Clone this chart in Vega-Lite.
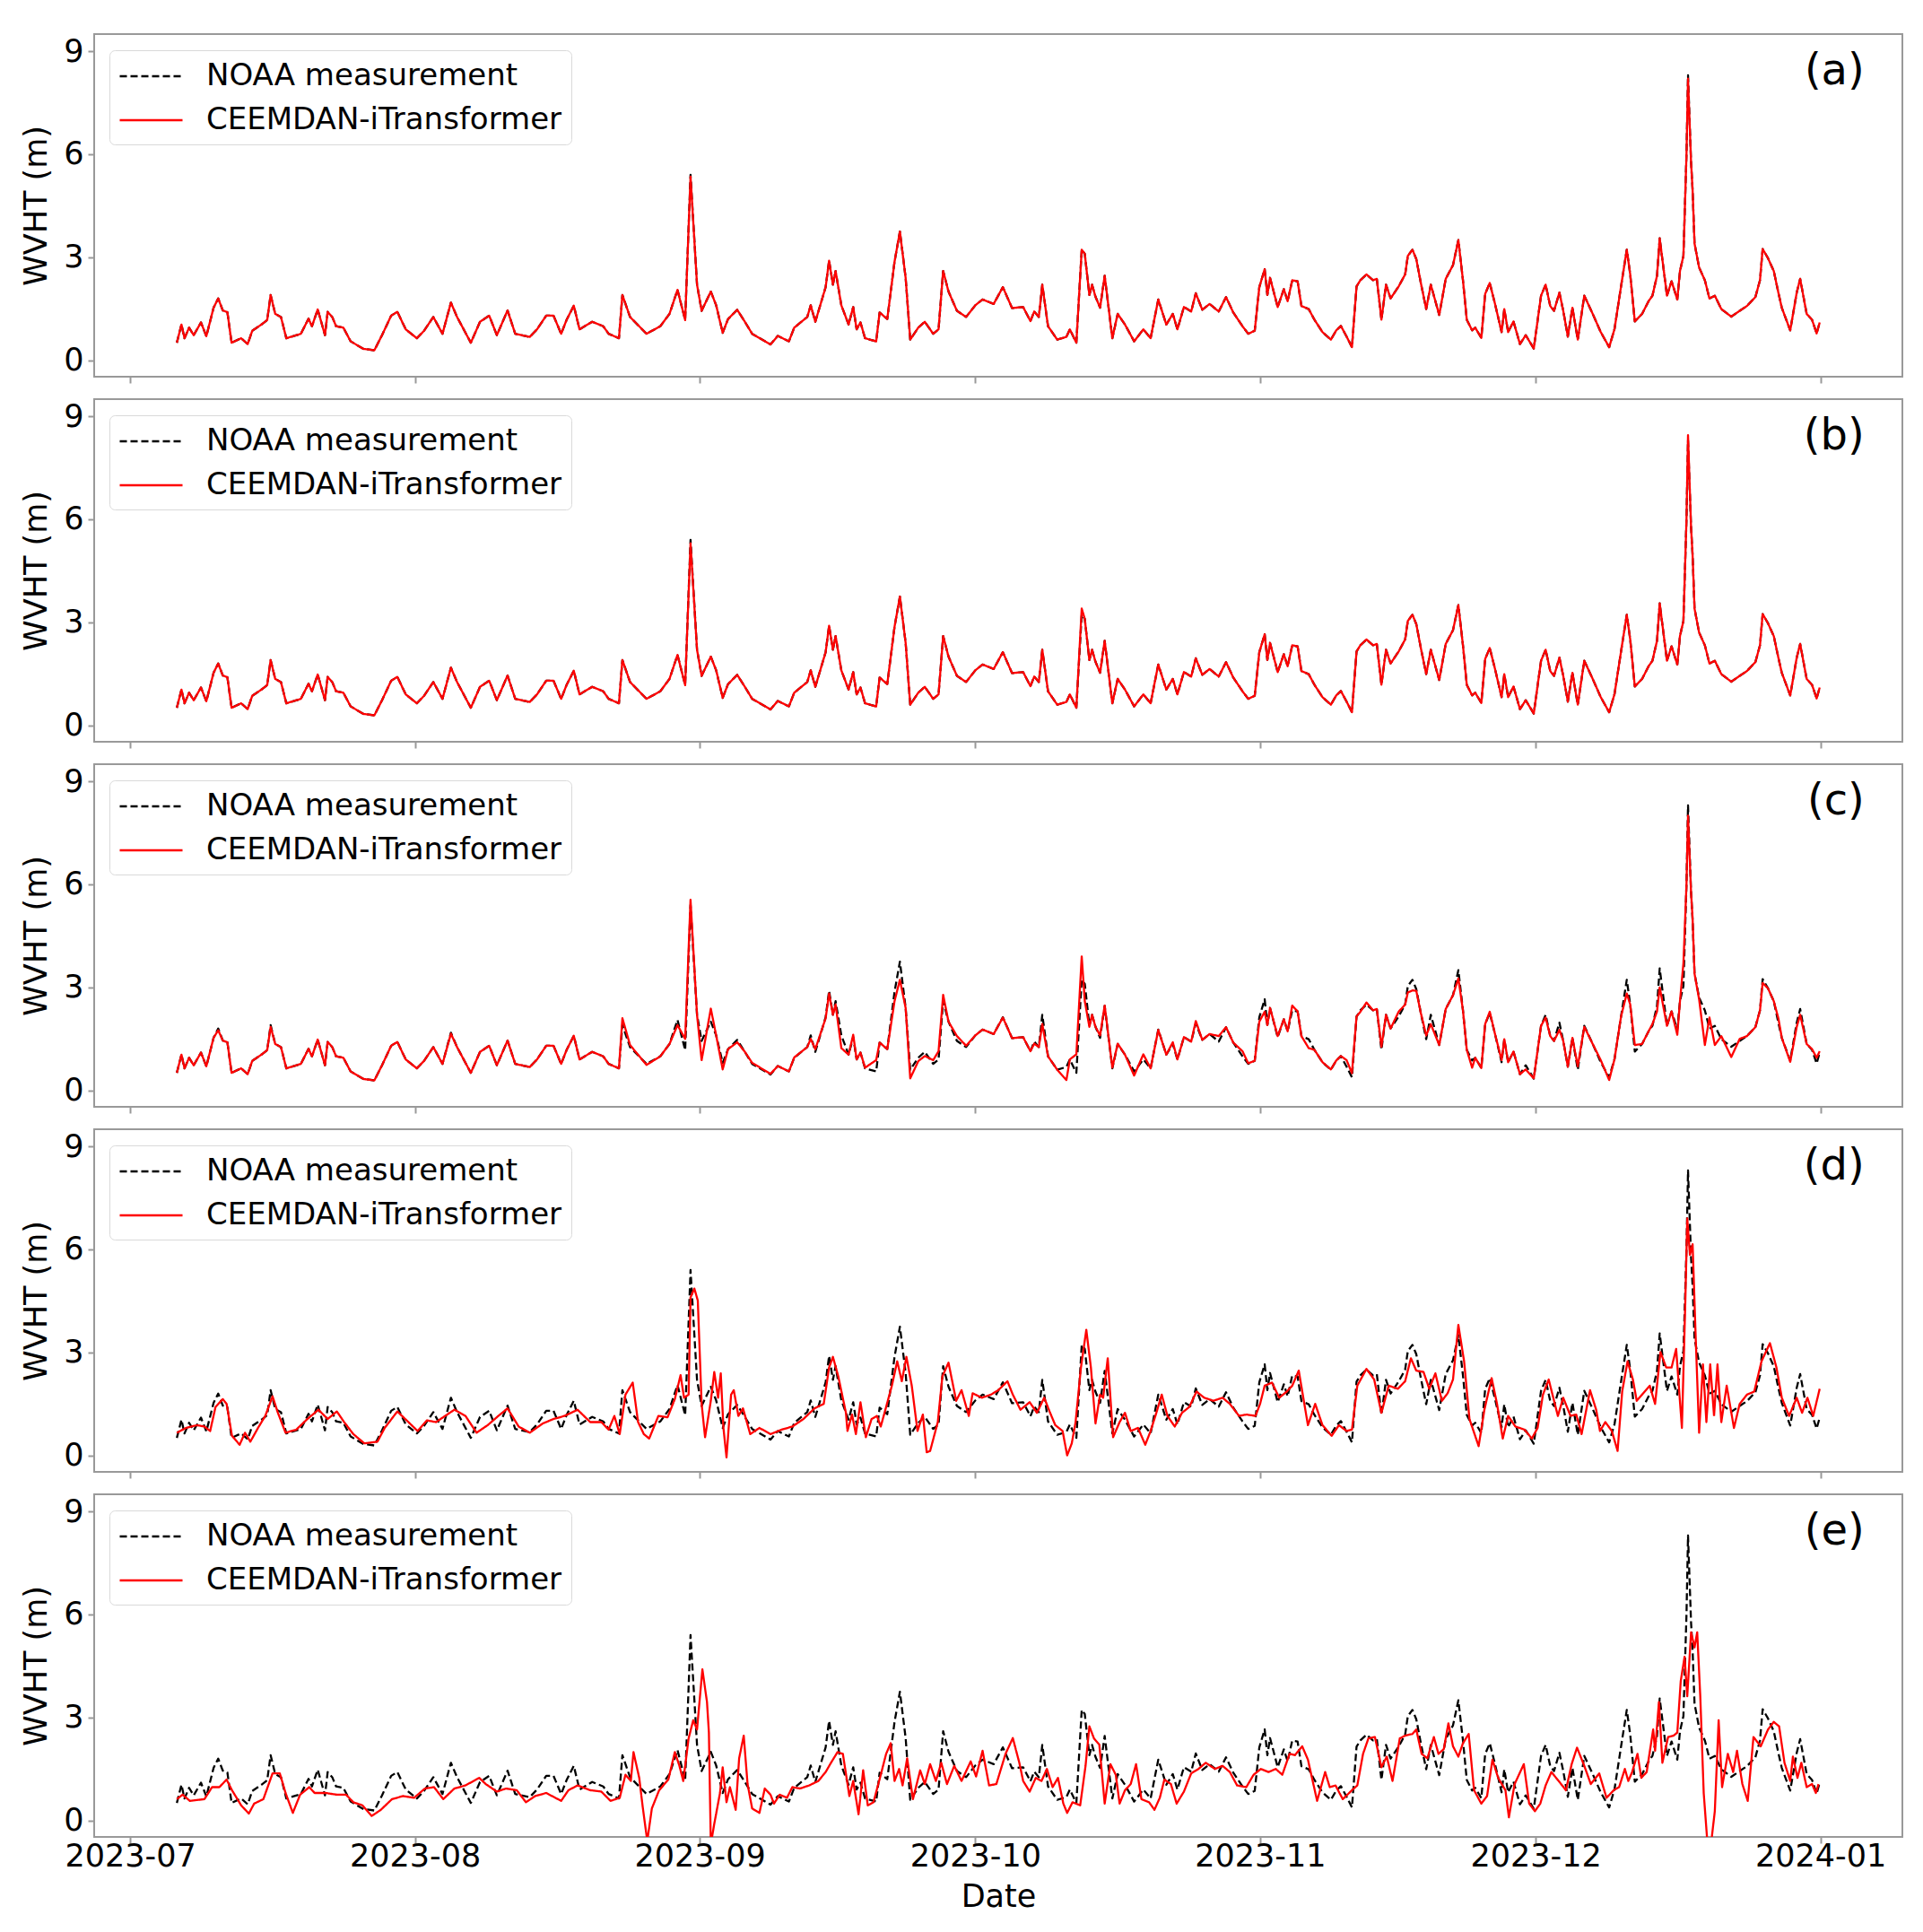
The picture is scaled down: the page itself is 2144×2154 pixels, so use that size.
{
"$schema": "https://vega.github.io/schema/vega-lite/v6.json",
"padding": {"left": 22, "top": 37, "right": 0, "bottom": 6},
"background": "white",
"datasets": {
"obs": [
{"t":"2023-07-06T02:00","o":0.51,"a":0.51,"b":0.51,"c":0.51},
{"t":"2023-07-06T14:00","o":1.04,"a":1.04,"b":1.04,"c":1.04},
{"t":"2023-07-06T22:00","o":0.64,"a":0.64,"b":0.64,"c":0.64},
{"t":"2023-07-07T10:00","o":0.95,"a":0.95,"b":0.95,"c":0.95},
{"t":"2023-07-07T22:00","o":0.73,"a":0.73,"b":0.73,"c":0.73},
{"t":"2023-07-08T17:00","o":1.1,"a":1.1,"b":1.1,"c":1.1},
{"t":"2023-07-09T07:00","o":0.7,"a":0.7,"b":0.7,"c":0.7},
{"t":"2023-07-10T02:00","o":1.53,"a":1.53,"b":1.53,"c":1.53},
{"t":"2023-07-10T14:00","o":1.8,"a":1.8,"b":1.8,"c":1.75},
{"t":"2023-07-11T02:00","o":1.45,"a":1.45,"b":1.45,"c":1.45},
{"t":"2023-07-11T14:00","o":1.4,"a":1.4,"b":1.4,"c":1.4},
{"t":"2023-07-12T01:00","o":0.51,"a":0.51,"b":0.51,"c":0.51},
{"t":"2023-07-13T02:00","o":0.64,"a":0.64,"b":0.64,"c":0.64},
{"t":"2023-07-13T19:00","o":0.47,"a":0.47,"b":0.47,"c":0.47},
{"t":"2023-07-14T07:00","o":0.86,"a":0.86,"b":0.86,"c":0.86},
{"t":"2023-07-15T07:00","o":1.04,"a":1.04,"b":1.04,"c":1.04},
{"t":"2023-07-15T22:00","o":1.17,"a":1.17,"b":1.17,"c":1.17},
{"t":"2023-07-16T07:00","o":1.9,"a":1.9,"b":1.9,"c":1.85},
{"t":"2023-07-16T19:00","o":1.35,"a":1.35,"b":1.35,"c":1.35},
{"t":"2023-07-17T10:00","o":1.26,"a":1.26,"b":1.26,"c":1.26},
{"t":"2023-07-18T00:00","o":0.64,"a":0.64,"b":0.64,"c":0.64},
{"t":"2023-07-19T14:00","o":0.77,"a":0.77,"b":0.77,"c":0.77},
{"t":"2023-07-20T10:00","o":1.21,"a":1.21,"b":1.21,"c":1.21},
{"t":"2023-07-20T19:00","o":0.99,"a":0.99,"b":0.99,"c":0.99},
{"t":"2023-07-21T10:00","o":1.48,"a":1.48,"b":1.48,"c":1.48},
{"t":"2023-07-22T05:00","o":0.73,"a":0.73,"b":0.73,"c":0.73},
{"t":"2023-07-22T12:00","o":1.41,"a":1.41,"b":1.41,"c":1.41},
{"t":"2023-07-23T00:00","o":1.26,"a":1.26,"b":1.26,"c":1.26},
{"t":"2023-07-23T10:00","o":0.99,"a":0.99,"b":0.99,"c":0.99},
{"t":"2023-07-24T05:00","o":0.95,"a":0.95,"b":0.95,"c":0.95},
{"t":"2023-07-25T00:00","o":0.55,"a":0.55,"b":0.55,"c":0.55},
{"t":"2023-07-26T10:00","o":0.33,"a":0.33,"b":0.33,"c":0.33},
{"t":"2023-07-27T14:00","o":0.29,"a":0.29,"b":0.29,"c":0.29},
{"t":"2023-07-28T10:00","o":0.73,"a":0.73,"b":0.73,"c":0.73},
{"t":"2023-07-29T10:00","o":1.3,"a":1.3,"b":1.3,"c":1.3},
{"t":"2023-07-30T02:00","o":1.41,"a":1.41,"b":1.41,"c":1.41},
{"t":"2023-07-31T00:00","o":0.9,"a":0.9,"b":0.9,"c":0.9},
{"t":"2023-08-01T05:00","o":0.64,"a":0.64,"b":0.64,"c":0.64},
{"t":"2023-08-02T00:00","o":0.86,"a":0.86,"b":0.86,"c":0.86},
{"t":"2023-08-03T00:00","o":1.26,"a":1.26,"b":1.26,"c":1.26},
{"t":"2023-08-04T00:00","o":0.77,"a":0.77,"b":0.77,"c":0.77},
{"t":"2023-08-04T22:00","o":1.68,"a":1.68,"b":1.68,"c":1.65},
{"t":"2023-08-05T14:00","o":1.26,"a":1.26,"b":1.26,"c":1.26},
{"t":"2023-08-07T02:00","o":0.51,"a":0.51,"b":0.51,"c":0.51},
{"t":"2023-08-08T02:00","o":1.12,"a":1.12,"b":1.12,"c":1.12},
{"t":"2023-08-09T02:00","o":1.3,"a":1.3,"b":1.3,"c":1.3},
{"t":"2023-08-09T22:00","o":0.73,"a":0.73,"b":0.73,"c":0.73},
{"t":"2023-08-11T02:00","o":1.45,"a":1.45,"b":1.45,"c":1.45},
{"t":"2023-08-11T22:00","o":0.77,"a":0.77,"b":0.77,"c":0.77},
{"t":"2023-08-13T12:00","o":0.68,"a":0.68,"b":0.68,"c":0.68},
{"t":"2023-08-14T07:00","o":0.9,"a":0.9,"b":0.9,"c":0.9},
{"t":"2023-08-15T07:00","o":1.3,"a":1.3,"b":1.3,"c":1.3},
{"t":"2023-08-16T02:00","o":1.3,"a":1.3,"b":1.3,"c":1.3},
{"t":"2023-08-16T22:00","o":0.77,"a":0.77,"b":0.77,"c":0.77},
{"t":"2023-08-17T12:00","o":1.17,"a":1.17,"b":1.17,"c":1.17},
{"t":"2023-08-18T07:00","o":1.59,"a":1.59,"b":1.59,"c":1.59},
{"t":"2023-08-18T22:00","o":0.9,"a":0.9,"b":0.9,"c":0.9},
{"t":"2023-08-20T07:00","o":1.12,"a":1.12,"b":1.12,"c":1.12},
{"t":"2023-08-21T12:00","o":0.99,"a":0.99,"b":0.99,"c":0.99},
{"t":"2023-08-22T02:00","o":0.77,"a":0.77,"b":0.77,"c":0.77},
{"t":"2023-08-23T05:00","o":0.64,"a":0.64,"b":0.64,"c":0.64},
{"t":"2023-08-23T14:00","o":1.9,"a":1.9,"b":1.9,"c":2.1},
{"t":"2023-08-24T10:00","o":1.26,"a":1.26,"b":1.26,"c":1.32},
{"t":"2023-08-26T05:00","o":0.77,"a":0.77,"b":0.77,"c":0.74},
{"t":"2023-08-27T17:00","o":0.99,"a":0.99,"b":0.99,"c":0.99},
{"t":"2023-08-28T17:00","o":1.35,"a":1.35,"b":1.35,"c":1.35},
{"t":"2023-08-29T14:00","o":2.05,"a":2.05,"b":2.05,"c":1.9},
{"t":"2023-08-30T10:00","o":1.17,"a":1.17,"b":1.17,"c":1.5},
{"t":"2023-08-31T00:00","o":5.4,"a":5.35,"b":5.3,"c":5.55},
{"t":"2023-08-31T17:00","o":2.2,"a":2.2,"b":2.2,"c":2.2},
{"t":"2023-09-01T05:00","o":1.44,"a":1.44,"b":1.44,"c":0.88},
{"t":"2023-09-02T05:00","o":2.0,"a":2.0,"b":2.0,"c":2.38},
{"t":"2023-09-02T19:00","o":1.6,"a":1.6,"b":1.6,"c":1.6},
{"t":"2023-09-03T12:00","o":0.8,"a":0.8,"b":0.8,"c":0.61},
{"t":"2023-09-04T02:00","o":1.2,"a":1.2,"b":1.2,"c":1.2},
{"t":"2023-09-05T02:00","o":1.47,"a":1.47,"b":1.47,"c":1.4},
{"t":"2023-09-05T22:00","o":1.12,"a":1.12,"b":1.12,"c":1.12},
{"t":"2023-09-06T17:00","o":0.77,"a":0.77,"b":0.77,"c":0.8},
{"t":"2023-09-08T17:00","o":0.46,"a":0.46,"b":0.46,"c":0.48},
{"t":"2023-09-09T12:00","o":0.71,"a":0.71,"b":0.71,"c":0.71},
{"t":"2023-09-10T17:00","o":0.55,"a":0.55,"b":0.55,"c":0.55},
{"t":"2023-09-11T07:00","o":0.95,"a":0.95,"b":0.95,"c":0.96},
{"t":"2023-09-12T17:00","o":1.26,"a":1.26,"b":1.26,"c":1.26},
{"t":"2023-09-13T02:00","o":1.6,"a":1.6,"b":1.6,"c":1.5},
{"t":"2023-09-13T14:00","o":1.12,"a":1.12,"b":1.12,"c":1.2},
{"t":"2023-09-14T17:00","o":2.13,"a":2.13,"b":2.13,"c":2.1},
{"t":"2023-09-15T02:00","o":2.9,"a":2.9,"b":2.9,"c":2.82},
{"t":"2023-09-15T12:00","o":2.2,"a":2.2,"b":2.2,"c":2.2},
{"t":"2023-09-15T19:00","o":2.6,"a":2.6,"b":2.6,"c":2.5},
{"t":"2023-09-16T10:00","o":1.6,"a":1.6,"b":1.6,"c":1.23},
{"t":"2023-09-17T05:00","o":1.04,"a":1.04,"b":1.04,"c":1.04},
{"t":"2023-09-17T17:00","o":1.55,"a":1.55,"b":1.55,"c":1.62},
{"t":"2023-09-18T02:00","o":0.9,"a":0.9,"b":0.9,"c":0.9},
{"t":"2023-09-18T12:00","o":1.1,"a":1.1,"b":1.1,"c":1.1},
{"t":"2023-09-19T00:00","o":0.64,"a":0.64,"b":0.64,"c":0.66},
{"t":"2023-09-20T05:00","o":0.55,"a":0.55,"b":0.55,"c":0.88},
{"t":"2023-09-20T14:00","o":1.39,"a":1.39,"b":1.39,"c":1.39},
{"t":"2023-09-21T10:00","o":1.2,"a":1.2,"b":1.2,"c":1.2},
{"t":"2023-09-22T05:00","o":2.87,"a":2.87,"b":2.87,"c":2.6},
{"t":"2023-09-22T19:00","o":3.75,"a":3.75,"b":3.75,"c":3.22},
{"t":"2023-09-23T10:00","o":2.4,"a":2.4,"b":2.4,"c":2.4},
{"t":"2023-09-23T22:00","o":0.6,"a":0.6,"b":0.6,"c":0.35},
{"t":"2023-09-24T19:00","o":0.95,"a":0.95,"b":0.95,"c":0.85},
{"t":"2023-09-25T12:00","o":1.12,"a":1.12,"b":1.12,"c":1.0},
{"t":"2023-09-26T10:00","o":0.77,"a":0.77,"b":0.77,"c":0.88},
{"t":"2023-09-27T00:00","o":0.9,"a":0.9,"b":0.9,"c":1.14},
{"t":"2023-09-27T12:00","o":2.6,"a":2.6,"b":2.6,"c":2.78},
{"t":"2023-09-28T02:00","o":2.0,"a":2.0,"b":2.0,"c":2.0},
{"t":"2023-09-29T00:00","o":1.44,"a":1.44,"b":1.44,"c":1.58},
{"t":"2023-09-30T00:00","o":1.26,"a":1.26,"b":1.26,"c":1.3},
{"t":"2023-10-01T00:00","o":1.6,"a":1.6,"b":1.6,"c":1.6},
{"t":"2023-10-01T19:00","o":1.77,"a":1.77,"b":1.77,"c":1.77},
{"t":"2023-10-03T00:00","o":1.64,"a":1.64,"b":1.64,"c":1.64},
{"t":"2023-10-04T00:00","o":2.13,"a":2.13,"b":2.13,"c":2.12},
{"t":"2023-10-05T00:00","o":1.52,"a":1.52,"b":1.52,"c":1.52},
{"t":"2023-10-06T05:00","o":1.55,"a":1.55,"b":1.55,"c":1.55},
{"t":"2023-10-07T00:00","o":1.14,"a":1.14,"b":1.14,"c":1.14},
{"t":"2023-10-07T10:00","o":1.42,"a":1.42,"b":1.42,"c":1.36},
{"t":"2023-10-07T22:00","o":1.26,"a":1.26,"b":1.26,"c":1.26},
{"t":"2023-10-08T07:00","o":2.2,"a":2.2,"b":2.2,"c":1.93},
{"t":"2023-10-08T22:00","o":0.99,"a":0.99,"b":0.99,"c":0.99},
{"t":"2023-10-09T22:00","o":0.6,"a":0.6,"b":0.6,"c":0.6},
{"t":"2023-10-10T22:00","o":0.68,"a":0.68,"b":0.68,"c":0.3},
{"t":"2023-10-11T07:00","o":0.9,"a":0.9,"b":0.9,"c":0.9},
{"t":"2023-10-12T00:00","o":0.51,"a":0.51,"b":0.51,"c":1.05},
{"t":"2023-10-12T14:00","o":3.22,"a":3.22,"b":3.4,"c":3.9},
{"t":"2023-10-12T22:00","o":3.1,"a":3.1,"b":3.1,"c":2.6},
{"t":"2023-10-13T10:00","o":1.9,"a":1.9,"b":1.9,"c":1.85},
{"t":"2023-10-13T17:00","o":2.2,"a":2.2,"b":2.2,"c":2.2},
{"t":"2023-10-14T02:00","o":1.85,"a":1.85,"b":1.85,"c":1.85},
{"t":"2023-10-14T14:00","o":1.53,"a":1.53,"b":1.53,"c":1.6},
{"t":"2023-10-15T02:00","o":2.46,"a":2.46,"b":2.46,"c":2.47},
{"t":"2023-10-15T22:00","o":0.64,"a":0.64,"b":0.64,"c":0.66},
{"t":"2023-10-16T12:00","o":1.35,"a":1.35,"b":1.35,"c":1.36},
{"t":"2023-10-17T07:00","o":1.04,"a":1.04,"b":1.04,"c":1.04},
{"t":"2023-10-18T07:00","o":0.55,"a":0.55,"b":0.55,"c":0.43},
{"t":"2023-10-19T07:00","o":0.9,"a":0.9,"b":0.9,"c":1.05},
{"t":"2023-10-20T02:00","o":0.64,"a":0.64,"b":0.64,"c":0.64},
{"t":"2023-10-20T22:00","o":1.77,"a":1.77,"b":1.77,"c":1.76},
{"t":"2023-10-21T19:00","o":1.04,"a":1.04,"b":1.04,"c":1.04},
{"t":"2023-10-22T12:00","o":1.35,"a":1.35,"b":1.35,"c":1.4},
{"t":"2023-10-23T00:00","o":0.9,"a":0.9,"b":0.9,"c":0.9},
{"t":"2023-10-23T17:00","o":1.55,"a":1.55,"b":1.55,"c":1.55},
{"t":"2023-10-24T12:00","o":1.42,"a":1.42,"b":1.42,"c":1.42},
{"t":"2023-10-25T00:00","o":1.95,"a":1.95,"b":1.95,"c":2.02},
{"t":"2023-10-25T17:00","o":1.47,"a":1.47,"b":1.47,"c":1.47},
{"t":"2023-10-26T12:00","o":1.64,"a":1.64,"b":1.64,"c":1.64},
{"t":"2023-10-27T12:00","o":1.42,"a":1.42,"b":1.42,"c":1.58},
{"t":"2023-10-28T07:00","o":1.84,"a":1.84,"b":1.84,"c":1.84},
{"t":"2023-10-29T02:00","o":1.39,"a":1.39,"b":1.39,"c":1.39},
{"t":"2023-10-30T02:00","o":0.99,"a":0.99,"b":0.99,"c":1.14},
{"t":"2023-10-30T17:00","o":0.77,"a":0.77,"b":0.77,"c":0.79},
{"t":"2023-10-31T10:00","o":0.86,"a":0.86,"b":0.86,"c":0.86},
{"t":"2023-10-31T22:00","o":2.13,"a":2.13,"b":2.13,"c":2.0},
{"t":"2023-11-01T12:00","o":2.65,"a":2.65,"b":2.65,"c":2.29},
{"t":"2023-11-01T19:00","o":1.9,"a":1.9,"b":1.9,"c":1.9},
{"t":"2023-11-02T02:00","o":2.4,"a":2.4,"b":2.4,"c":2.4},
{"t":"2023-11-02T22:00","o":1.55,"a":1.55,"b":1.55,"c":1.58},
{"t":"2023-11-03T14:00","o":2.07,"a":2.07,"b":2.07,"c":2.07},
{"t":"2023-11-04T00:00","o":1.72,"a":1.72,"b":1.72,"c":1.72},
{"t":"2023-11-04T12:00","o":2.33,"a":2.33,"b":2.33,"c":2.47},
{"t":"2023-11-05T02:00","o":2.3,"a":2.3,"b":2.3,"c":2.3},
{"t":"2023-11-05T12:00","o":1.58,"a":1.58,"b":1.58,"c":1.58},
{"t":"2023-11-06T07:00","o":1.49,"a":1.49,"b":1.49,"c":1.23},
{"t":"2023-11-06T22:00","o":1.18,"a":1.18,"b":1.18,"c":1.18},
{"t":"2023-11-07T19:00","o":0.82,"a":0.82,"b":0.82,"c":0.82},
{"t":"2023-11-08T17:00","o":0.6,"a":0.6,"b":0.6,"c":0.61},
{"t":"2023-11-09T07:00","o":0.87,"a":0.87,"b":0.87,"c":0.87},
{"t":"2023-11-09T19:00","o":1.0,"a":1.0,"b":1.0,"c":1.0},
{"t":"2023-11-10T10:00","o":0.69,"a":0.69,"b":0.69,"c":0.88},
{"t":"2023-11-11T00:00","o":0.38,"a":0.38,"b":0.38,"c":0.5},
{"t":"2023-11-11T12:00","o":2.15,"a":2.15,"b":2.15,"c":2.15},
{"t":"2023-11-11T22:00","o":2.33,"a":2.33,"b":2.33,"c":2.29},
{"t":"2023-11-12T14:00","o":2.5,"a":2.5,"b":2.5,"c":2.56},
{"t":"2023-11-13T07:00","o":2.33,"a":2.33,"b":2.33,"c":2.33},
{"t":"2023-11-13T17:00","o":2.37,"a":2.37,"b":2.37,"c":2.37},
{"t":"2023-11-14T05:00","o":1.18,"a":1.18,"b":1.18,"c":1.27},
{"t":"2023-11-14T17:00","o":2.2,"a":2.2,"b":2.2,"c":2.2},
{"t":"2023-11-15T05:00","o":1.8,"a":1.8,"b":1.8,"c":1.8},
{"t":"2023-11-16T02:00","o":2.15,"a":2.15,"b":2.15,"c":2.29},
{"t":"2023-11-16T19:00","o":2.5,"a":2.5,"b":2.5,"c":2.5},
{"t":"2023-11-17T02:00","o":3.04,"a":3.04,"b":3.04,"c":2.85},
{"t":"2023-11-17T14:00","o":3.22,"a":3.22,"b":3.22,"c":2.91},
{"t":"2023-11-18T00:00","o":2.95,"a":2.95,"b":2.95,"c":2.9},
{"t":"2023-11-18T12:00","o":2.25,"a":2.25,"b":2.25,"c":2.25},
{"t":"2023-11-19T02:00","o":1.49,"a":1.49,"b":1.49,"c":1.6},
{"t":"2023-11-19T14:00","o":2.2,"a":2.2,"b":2.2,"c":1.93},
{"t":"2023-11-20T12:00","o":1.32,"a":1.32,"b":1.32,"c":1.32},
{"t":"2023-11-21T05:00","o":2.37,"a":2.37,"b":2.37,"c":2.37},
{"t":"2023-11-22T00:00","o":2.77,"a":2.77,"b":2.77,"c":2.77},
{"t":"2023-11-22T14:00","o":3.5,"a":3.5,"b":3.5,"c":3.26},
{"t":"2023-11-23T02:00","o":2.33,"a":2.33,"b":2.33,"c":2.33},
{"t":"2023-11-23T12:00","o":1.18,"a":1.18,"b":1.18,"c":1.18},
{"t":"2023-11-24T02:00","o":0.87,"a":0.87,"b":0.87,"c":0.66},
{"t":"2023-11-24T10:00","o":0.95,"a":0.95,"b":0.95,"c":0.95},
{"t":"2023-11-25T02:00","o":0.65,"a":0.65,"b":0.65,"c":0.65},
{"t":"2023-11-25T12:00","o":1.93,"a":1.93,"b":1.93,"c":1.93},
{"t":"2023-11-26T00:00","o":2.25,"a":2.25,"b":2.25,"c":2.29},
{"t":"2023-11-26T14:00","o":1.63,"a":1.63,"b":1.63,"c":1.63},
{"t":"2023-11-27T07:00","o":0.82,"a":0.82,"b":0.82,"c":0.88},
{"t":"2023-11-27T14:00","o":1.49,"a":1.49,"b":1.49,"c":1.49},
{"t":"2023-11-28T00:00","o":0.82,"a":0.82,"b":0.82,"c":0.82},
{"t":"2023-11-28T14:00","o":1.13,"a":1.13,"b":1.13,"c":1.13},
{"t":"2023-11-29T07:00","o":0.47,"a":0.47,"b":0.47,"c":0.47},
{"t":"2023-11-29T22:00","o":0.73,"a":0.73,"b":0.73,"c":0.61},
{"t":"2023-11-30T19:00","o":0.34,"a":0.34,"b":0.34,"c":0.35},
{"t":"2023-12-01T14:00","o":1.88,"a":1.88,"b":1.88,"c":1.88},
{"t":"2023-12-02T02:00","o":2.2,"a":2.2,"b":2.2,"c":2.12},
{"t":"2023-12-02T14:00","o":1.58,"a":1.58,"b":1.58,"c":1.58},
{"t":"2023-12-03T00:00","o":1.44,"a":1.44,"b":1.44,"c":1.44},
{"t":"2023-12-03T14:00","o":1.97,"a":1.97,"b":1.97,"c":1.76},
{"t":"2023-12-04T00:00","o":1.44,"a":1.44,"b":1.44,"c":1.44},
{"t":"2023-12-04T12:00","o":0.69,"a":0.69,"b":0.69,"c":0.69},
{"t":"2023-12-05T00:00","o":1.53,"a":1.53,"b":1.53,"c":1.53},
{"t":"2023-12-05T14:00","o":0.6,"a":0.6,"b":0.6,"c":0.7},
{"t":"2023-12-06T07:00","o":1.88,"a":1.88,"b":1.88,"c":1.85},
{"t":"2023-12-07T05:00","o":1.35,"a":1.35,"b":1.35,"c":1.35},
{"t":"2023-12-08T02:00","o":0.82,"a":0.82,"b":0.82,"c":0.88},
{"t":"2023-12-09T00:00","o":0.38,"a":0.38,"b":0.38,"c":0.3},
{"t":"2023-12-09T14:00","o":0.91,"a":0.91,"b":0.91,"c":0.91},
{"t":"2023-12-10T07:00","o":2.15,"a":2.15,"b":2.15,"c":2.15},
{"t":"2023-12-10T22:00","o":3.22,"a":3.22,"b":3.22,"c":2.82},
{"t":"2023-12-11T07:00","o":2.5,"a":2.5,"b":2.5,"c":2.5},
{"t":"2023-12-11T19:00","o":1.13,"a":1.13,"b":1.13,"c":1.32},
{"t":"2023-12-12T14:00","o":1.35,"a":1.35,"b":1.35,"c":1.35},
{"t":"2023-12-13T07:00","o":1.72,"a":1.72,"b":1.72,"c":1.72},
{"t":"2023-12-13T17:00","o":1.88,"a":1.88,"b":1.88,"c":1.93},
{"t":"2023-12-14T05:00","o":2.46,"a":2.46,"b":2.46,"c":2.3},
{"t":"2023-12-14T12:00","o":3.55,"a":3.55,"b":3.55,"c":3.0},
{"t":"2023-12-15T07:00","o":1.88,"a":1.88,"b":1.88,"c":1.88},
{"t":"2023-12-15T19:00","o":2.3,"a":2.3,"b":2.3,"c":2.3},
{"t":"2023-12-16T10:00","o":1.77,"a":1.77,"b":1.77,"c":1.62},
{"t":"2023-12-16T17:00","o":2.6,"a":2.6,"b":2.6,"c":2.6},
{"t":"2023-12-17T02:00","o":3.04,"a":3.04,"b":3.04,"c":3.7},
{"t":"2023-12-17T10:00","o":6.0,"a":6.0,"b":6.0,"c":6.0},
{"t":"2023-12-17T14:00","o":8.3,"a":8.2,"b":8.45,"c":8.0},
{"t":"2023-12-17T22:00","o":5.75,"a":5.75,"b":5.75,"c":5.75},
{"t":"2023-12-18T02:00","o":4.95,"a":4.95,"b":4.95,"c":5.0},
{"t":"2023-12-18T07:00","o":3.4,"a":3.4,"b":3.4,"c":3.4},
{"t":"2023-12-18T19:00","o":2.7,"a":2.7,"b":2.7,"c":2.65},
{"t":"2023-12-19T10:00","o":2.33,"a":2.33,"b":2.33,"c":1.32},
{"t":"2023-12-19T22:00","o":1.8,"a":1.8,"b":1.8,"c":2.12},
{"t":"2023-12-20T12:00","o":1.88,"a":1.88,"b":1.88,"c":1.32},
{"t":"2023-12-21T05:00","o":1.49,"a":1.49,"b":1.49,"c":1.58},
{"t":"2023-12-22T07:00","o":1.27,"a":1.27,"b":1.27,"c":0.97},
{"t":"2023-12-23T05:00","o":1.44,"a":1.44,"b":1.44,"c":1.5},
{"t":"2023-12-24T00:00","o":1.58,"a":1.58,"b":1.58,"c":1.58},
{"t":"2023-12-24T22:00","o":1.84,"a":1.84,"b":1.84,"c":1.84},
{"t":"2023-12-25T10:00","o":2.33,"a":2.33,"b":2.33,"c":2.33},
{"t":"2023-12-25T17:00","o":3.24,"a":3.24,"b":3.24,"c":3.13},
{"t":"2023-12-26T07:00","o":2.97,"a":2.97,"b":2.97,"c":2.97},
{"t":"2023-12-26T22:00","o":2.6,"a":2.6,"b":2.6,"c":2.6},
{"t":"2023-12-27T10:00","o":1.97,"a":1.97,"b":1.97,"c":2.1},
{"t":"2023-12-27T19:00","o":1.53,"a":1.53,"b":1.53,"c":1.53},
{"t":"2023-12-28T17:00","o":0.87,"a":0.87,"b":0.87,"c":0.83},
{"t":"2023-12-29T10:00","o":1.97,"a":1.97,"b":1.97,"c":1.85},
{"t":"2023-12-29T19:00","o":2.37,"a":2.37,"b":2.37,"c":2.2},
{"t":"2023-12-30T12:00","o":1.35,"a":1.35,"b":1.35,"c":1.35},
{"t":"2023-12-31T02:00","o":1.18,"a":1.18,"b":1.18,"c":1.2},
{"t":"2023-12-31T14:00","o":0.78,"a":0.78,"b":0.78,"c":0.95},
{"t":"2023-12-31T22:00","o":1.1,"a":1.1,"b":1.1,"c":1.14}
],
"pd": [
{"t":"2023-07-06T02:00","v":0.66},{"t":"2023-07-07T02:00","v":0.8},{"t":"2023-07-08T07:00","v":0.88},{"t":"2023-07-09T02:00","v":0.84},{"t":"2023-07-09T17:00","v":0.71},{"t":"2023-07-10T07:00","v":1.41},{"t":"2023-07-11T02:00","v":1.64},{"t":"2023-07-11T12:00","v":1.5},{"t":"2023-07-12T02:00","v":0.57},{"t":"2023-07-12T22:00","v":0.31},{"t":"2023-07-13T12:00","v":0.66},{"t":"2023-07-14T02:00","v":0.4},{"t":"2023-07-14T22:00","v":0.8},{"t":"2023-07-15T17:00","v":1.15},{"t":"2023-07-16T12:00","v":1.72},{"t":"2023-07-17T02:00","v":1.24},{"t":"2023-07-17T22:00","v":0.66},{"t":"2023-07-19T02:00","v":0.75},{"t":"2023-07-20T07:00","v":1.06},{"t":"2023-07-21T12:00","v":1.33},{"t":"2023-07-22T12:00","v":1.06},{"t":"2023-07-23T12:00","v":1.28},{"t":"2023-07-24T07:00","v":0.97},{"t":"2023-07-25T07:00","v":0.62},{"t":"2023-07-26T12:00","v":0.35},{"t":"2023-07-27T22:00","v":0.4},{"t":"2023-07-28T17:00","v":0.8},{"t":"2023-07-30T02:00","v":1.28},{"t":"2023-07-31T07:00","v":0.97},{"t":"2023-08-01T07:00","v":0.71},{"t":"2023-08-02T07:00","v":1.02},{"t":"2023-08-03T07:00","v":0.97},{"t":"2023-08-04T07:00","v":1.15},{"t":"2023-08-05T07:00","v":1.33},{"t":"2023-08-06T12:00","v":1.15},{"t":"2023-08-07T17:00","v":0.66},{"t":"2023-08-08T22:00","v":0.88},{"t":"2023-08-10T02:00","v":1.15},{"t":"2023-08-11T02:00","v":1.37},{"t":"2023-08-12T07:00","v":0.84},{"t":"2023-08-13T12:00","v":0.66},{"t":"2023-08-14T22:00","v":0.93},{"t":"2023-08-16T02:00","v":1.06},{"t":"2023-08-17T07:00","v":1.15},{"t":"2023-08-18T17:00","v":1.33},{"t":"2023-08-20T02:00","v":0.97},{"t":"2023-08-21T07:00","v":0.97},{"t":"2023-08-22T02:00","v":0.75},{"t":"2023-08-22T17:00","v":1.15},{"t":"2023-08-23T07:00","v":0.62},{"t":"2023-08-23T22:00","v":1.77},{"t":"2023-08-24T17:00","v":2.12},{"t":"2023-08-25T07:00","v":0.97},{"t":"2023-08-25T22:00","v":0.62},{"t":"2023-08-26T12:00","v":0.49},{"t":"2023-08-27T12:00","v":1.15},{"t":"2023-08-28T12:00","v":1.11},{"t":"2023-08-29T07:00","v":1.64},{"t":"2023-08-29T22:00","v":2.34},{"t":"2023-08-30T07:00","v":1.68},{"t":"2023-08-30T19:00","v":1.77},{"t":"2023-08-31T00:00","v":4.6},{"t":"2023-08-31T10:00","v":4.86},{"t":"2023-08-31T19:00","v":4.51},{"t":"2023-09-01T05:00","v":1.5},{"t":"2023-09-01T14:00","v":0.53},{"t":"2023-09-02T05:00","v":1.59},{"t":"2023-09-02T14:00","v":2.43},{"t":"2023-09-03T00:00","v":1.68},{"t":"2023-09-03T07:00","v":2.39},{"t":"2023-09-03T14:00","v":0.8},{"t":"2023-09-03T22:00","v":-0.06},{"t":"2023-09-04T10:00","v":1.77},{"t":"2023-09-04T17:00","v":1.9},{"t":"2023-09-05T05:00","v":1.15},{"t":"2023-09-05T17:00","v":1.37},{"t":"2023-09-06T12:00","v":0.62},{"t":"2023-09-07T12:00","v":0.8},{"t":"2023-09-08T17:00","v":0.62},{"t":"2023-09-09T22:00","v":0.75},{"t":"2023-09-11T02:00","v":0.84},{"t":"2023-09-12T07:00","v":1.06},{"t":"2023-09-13T12:00","v":1.37},{"t":"2023-09-14T12:00","v":1.5},{"t":"2023-09-15T02:00","v":2.56},{"t":"2023-09-15T12:00","v":2.87},{"t":"2023-09-16T02:00","v":2.3},{"t":"2023-09-16T22:00","v":1.24},{"t":"2023-09-17T02:00","v":0.71},{"t":"2023-09-17T14:00","v":1.19},{"t":"2023-09-18T00:00","v":0.62},{"t":"2023-09-18T12:00","v":1.55},{"t":"2023-09-19T02:00","v":0.53},{"t":"2023-09-19T17:00","v":1.06},{"t":"2023-09-20T07:00","v":1.15},{"t":"2023-09-20T17:00","v":0.84},{"t":"2023-09-21T07:00","v":1.41},{"t":"2023-09-21T22:00","v":2.03},{"t":"2023-09-22T12:00","v":2.74},{"t":"2023-09-23T00:00","v":2.16},{"t":"2023-09-23T12:00","v":2.87},{"t":"2023-09-24T02:00","v":2.03},{"t":"2023-09-24T17:00","v":0.71},{"t":"2023-09-25T07:00","v":1.19},{"t":"2023-09-25T17:00","v":0.09},{"t":"2023-09-26T02:00","v":0.13},{"t":"2023-09-26T22:00","v":0.97},{"t":"2023-09-27T10:00","v":2.3},{"t":"2023-09-28T02:00","v":2.7},{"t":"2023-09-28T22:00","v":1.59},{"t":"2023-09-29T12:00","v":1.9},{"t":"2023-09-30T07:00","v":1.15},{"t":"2023-09-30T17:00","v":1.81},{"t":"2023-10-01T17:00","v":1.68},{"t":"2023-10-02T17:00","v":1.77},{"t":"2023-10-03T12:00","v":1.9},{"t":"2023-10-04T12:00","v":2.16},{"t":"2023-10-05T02:00","v":1.77},{"t":"2023-10-05T22:00","v":1.33},{"t":"2023-10-06T22:00","v":1.55},{"t":"2023-10-07T17:00","v":1.24},{"t":"2023-10-08T12:00","v":1.68},{"t":"2023-10-09T02:00","v":1.28},{"t":"2023-10-09T17:00","v":0.88},{"t":"2023-10-10T12:00","v":0.71},{"t":"2023-10-11T00:00","v":0.0},{"t":"2023-10-11T12:00","v":0.35},{"t":"2023-10-11T22:00","v":0.97},{"t":"2023-10-12T12:00","v":2.56},{"t":"2023-10-13T02:00","v":3.66},{"t":"2023-10-13T14:00","v":2.56},{"t":"2023-10-14T02:00","v":0.93},{"t":"2023-10-14T14:00","v":1.77},{"t":"2023-10-14T22:00","v":1.68},{"t":"2023-10-15T10:00","v":2.83},{"t":"2023-10-16T00:00","v":0.53},{"t":"2023-10-16T17:00","v":0.97},{"t":"2023-10-17T07:00","v":1.24},{"t":"2023-10-17T22:00","v":0.71},{"t":"2023-10-18T17:00","v":0.8},{"t":"2023-10-19T12:00","v":0.31},{"t":"2023-10-20T02:00","v":0.71},{"t":"2023-10-20T17:00","v":1.24},{"t":"2023-10-21T07:00","v":1.77},{"t":"2023-10-21T22:00","v":1.15},{"t":"2023-10-22T17:00","v":0.84},{"t":"2023-10-23T12:00","v":1.24},{"t":"2023-10-24T07:00","v":1.41},{"t":"2023-10-25T02:00","v":1.86},{"t":"2023-10-25T22:00","v":1.68},{"t":"2023-10-26T22:00","v":1.59},{"t":"2023-10-27T22:00","v":1.68},{"t":"2023-10-28T17:00","v":1.5},{"t":"2023-10-29T17:00","v":1.15},{"t":"2023-10-30T12:00","v":1.19},{"t":"2023-10-31T12:00","v":1.15},{"t":"2023-11-01T00:00","v":1.5},{"t":"2023-11-01T12:00","v":2.03},{"t":"2023-11-02T07:00","v":2.12},{"t":"2023-11-03T02:00","v":1.68},{"t":"2023-11-03T22:00","v":1.86},{"t":"2023-11-04T12:00","v":2.03},{"t":"2023-11-05T05:00","v":2.47},{"t":"2023-11-06T05:00","v":0.88},{"t":"2023-11-07T00:00","v":1.5},{"t":"2023-11-07T19:00","v":0.88},{"t":"2023-11-08T19:00","v":0.57},{"t":"2023-11-09T14:00","v":0.88},{"t":"2023-11-10T10:00","v":0.71},{"t":"2023-11-11T00:00","v":0.75},{"t":"2023-11-11T14:00","v":2.03},{"t":"2023-11-12T14:00","v":2.52},{"t":"2023-11-13T10:00","v":2.21},{"t":"2023-11-14T05:00","v":1.24},{"t":"2023-11-15T00:00","v":2.03},{"t":"2023-11-16T00:00","v":1.94},{"t":"2023-11-16T19:00","v":2.16},{"t":"2023-11-17T10:00","v":2.83},{"t":"2023-11-18T00:00","v":2.47},{"t":"2023-11-18T19:00","v":2.43},{"t":"2023-11-19T10:00","v":1.94},{"t":"2023-11-20T02:00","v":2.39},{"t":"2023-11-20T19:00","v":1.59},{"t":"2023-11-21T10:00","v":1.81},{"t":"2023-11-22T00:00","v":2.21},{"t":"2023-11-22T14:00","v":3.8},{"t":"2023-11-23T05:00","v":2.74},{"t":"2023-11-23T19:00","v":1.06},{"t":"2023-11-24T19:00","v":0.27},{"t":"2023-11-25T10:00","v":1.33},{"t":"2023-11-26T05:00","v":2.25},{"t":"2023-11-26T19:00","v":1.5},{"t":"2023-11-27T10:00","v":0.49},{"t":"2023-11-28T00:00","v":1.15},{"t":"2023-11-28T19:00","v":0.84},{"t":"2023-11-29T19:00","v":0.75},{"t":"2023-11-30T14:00","v":0.49},{"t":"2023-12-01T05:00","v":0.8},{"t":"2023-12-01T19:00","v":1.77},{"t":"2023-12-02T10:00","v":2.21},{"t":"2023-12-03T10:00","v":1.15},{"t":"2023-12-04T00:00","v":1.68},{"t":"2023-12-04T19:00","v":1.15},{"t":"2023-12-05T10:00","v":1.19},{"t":"2023-12-06T00:00","v":0.62},{"t":"2023-12-06T22:00","v":1.9},{"t":"2023-12-07T14:00","v":1.33},{"t":"2023-12-08T00:00","v":0.71},{"t":"2023-12-08T14:00","v":0.97},{"t":"2023-12-09T07:00","v":0.71},{"t":"2023-12-09T22:00","v":0.13},{"t":"2023-12-10T10:00","v":1.86},{"t":"2023-12-11T00:00","v":2.74},{"t":"2023-12-11T14:00","v":2.21},{"t":"2023-12-12T00:00","v":1.59},{"t":"2023-12-12T14:00","v":1.77},{"t":"2023-12-13T10:00","v":2.03},{"t":"2023-12-14T00:00","v":1.5},{"t":"2023-12-14T14:00","v":3.01},{"t":"2023-12-15T05:00","v":2.56},{"t":"2023-12-15T19:00","v":2.56},{"t":"2023-12-16T07:00","v":3.1},{"t":"2023-12-16T22:00","v":0.8},{"t":"2023-12-17T07:00","v":4.51},{"t":"2023-12-17T12:00","v":6.9},{"t":"2023-12-17T19:00","v":5.84},{"t":"2023-12-18T02:00","v":6.15},{"t":"2023-12-18T10:00","v":3.45},{"t":"2023-12-18T19:00","v":0.66},{"t":"2023-12-19T05:00","v":2.65},{"t":"2023-12-19T14:00","v":0.97},{"t":"2023-12-20T00:00","v":2.65},{"t":"2023-12-20T10:00","v":1.15},{"t":"2023-12-20T19:00","v":2.65},{"t":"2023-12-21T05:00","v":0.97},{"t":"2023-12-21T19:00","v":2.03},{"t":"2023-12-22T14:00","v":0.8},{"t":"2023-12-23T05:00","v":1.5},{"t":"2023-12-24T00:00","v":1.77},{"t":"2023-12-24T19:00","v":1.86},{"t":"2023-12-25T14:00","v":2.74},{"t":"2023-12-26T12:00","v":3.27},{"t":"2023-12-27T05:00","v":2.56},{"t":"2023-12-27T19:00","v":1.68},{"t":"2023-12-28T14:00","v":1.15},{"t":"2023-12-29T10:00","v":1.68},{"t":"2023-12-30T00:00","v":1.24},{"t":"2023-12-30T14:00","v":1.68},{"t":"2023-12-31T05:00","v":1.15},{"t":"2023-12-31T22:00","v":1.94}
],
"pe": [
{"t":"2023-07-06T02:00","v":0.62},{"t":"2023-07-06T17:00","v":0.75},{"t":"2023-07-07T12:00","v":0.57},{"t":"2023-07-09T02:00","v":0.62},{"t":"2023-07-09T22:00","v":0.97},{"t":"2023-07-10T17:00","v":0.97},{"t":"2023-07-11T12:00","v":1.19},{"t":"2023-07-12T02:00","v":0.88},{"t":"2023-07-13T02:00","v":0.44},{"t":"2023-07-13T22:00","v":0.2},{"t":"2023-07-14T12:00","v":0.49},{"t":"2023-07-15T12:00","v":0.62},{"t":"2023-07-16T12:00","v":1.37},{"t":"2023-07-17T07:00","v":1.37},{"t":"2023-07-17T22:00","v":0.8},{"t":"2023-07-18T17:00","v":0.22},{"t":"2023-07-19T12:00","v":0.75},{"t":"2023-07-20T12:00","v":0.97},{"t":"2023-07-21T02:00","v":0.8},{"t":"2023-07-22T07:00","v":0.8},{"t":"2023-07-23T12:00","v":0.75},{"t":"2023-07-24T12:00","v":0.75},{"t":"2023-07-25T07:00","v":0.53},{"t":"2023-07-26T07:00","v":0.44},{"t":"2023-07-27T07:00","v":0.13},{"t":"2023-07-28T07:00","v":0.31},{"t":"2023-07-29T12:00","v":0.62},{"t":"2023-07-30T17:00","v":0.71},{"t":"2023-07-31T22:00","v":0.66},{"t":"2023-08-02T02:00","v":0.93},{"t":"2023-08-03T02:00","v":0.97},{"t":"2023-08-04T02:00","v":0.62},{"t":"2023-08-05T07:00","v":0.93},{"t":"2023-08-06T12:00","v":1.02},{"t":"2023-08-08T00:00","v":1.24},{"t":"2023-08-08T17:00","v":1.06},{"t":"2023-08-09T22:00","v":0.84},{"t":"2023-08-10T22:00","v":0.93},{"t":"2023-08-12T02:00","v":0.88},{"t":"2023-08-13T02:00","v":0.53},{"t":"2023-08-14T02:00","v":0.71},{"t":"2023-08-15T07:00","v":0.8},{"t":"2023-08-16T22:00","v":0.57},{"t":"2023-08-17T17:00","v":0.88},{"t":"2023-08-18T17:00","v":1.02},{"t":"2023-08-20T02:00","v":0.88},{"t":"2023-08-21T07:00","v":0.84},{"t":"2023-08-22T07:00","v":0.57},{"t":"2023-08-23T07:00","v":0.66},{"t":"2023-08-23T22:00","v":1.33},{"t":"2023-08-24T12:00","v":1.15},{"t":"2023-08-24T19:00","v":1.99},{"t":"2023-08-25T10:00","v":1.24},{"t":"2023-08-25T19:00","v":0.4},{"t":"2023-08-26T07:00","v":-0.6},{"t":"2023-08-26T19:00","v":0.35},{"t":"2023-08-27T14:00","v":0.88},{"t":"2023-08-28T14:00","v":1.19},{"t":"2023-08-29T07:00","v":1.99},{"t":"2023-08-29T19:00","v":1.59},{"t":"2023-08-30T05:00","v":1.15},{"t":"2023-08-30T19:00","v":2.39},{"t":"2023-08-31T07:00","v":2.92},{"t":"2023-08-31T17:00","v":2.65},{"t":"2023-09-01T07:00","v":4.4},{"t":"2023-09-01T19:00","v":3.45},{"t":"2023-09-02T00:00","v":2.56},{"t":"2023-09-02T05:00","v":-0.7},{"t":"2023-09-02T14:00","v":-0.1},{"t":"2023-09-03T05:00","v":0.8},{"t":"2023-09-03T12:00","v":1.55},{"t":"2023-09-03T22:00","v":0.53},{"t":"2023-09-04T07:00","v":0.97},{"t":"2023-09-04T22:00","v":0.31},{"t":"2023-09-05T07:00","v":1.81},{"t":"2023-09-05T19:00","v":2.47},{"t":"2023-09-06T05:00","v":1.06},{"t":"2023-09-06T17:00","v":0.35},{"t":"2023-09-07T12:00","v":0.22},{"t":"2023-09-08T02:00","v":0.93},{"t":"2023-09-08T17:00","v":0.75},{"t":"2023-09-09T02:00","v":0.49},{"t":"2023-09-09T17:00","v":0.75},{"t":"2023-09-10T12:00","v":0.66},{"t":"2023-09-11T02:00","v":0.97},{"t":"2023-09-11T22:00","v":0.93},{"t":"2023-09-12T22:00","v":1.02},{"t":"2023-09-13T22:00","v":1.15},{"t":"2023-09-14T17:00","v":1.41},{"t":"2023-09-15T07:00","v":1.68},{"t":"2023-09-16T00:00","v":1.99},{"t":"2023-09-16T14:00","v":1.94},{"t":"2023-09-17T07:00","v":0.71},{"t":"2023-09-17T17:00","v":1.15},{"t":"2023-09-18T07:00","v":0.18},{"t":"2023-09-18T19:00","v":1.46},{"t":"2023-09-19T07:00","v":0.44},{"t":"2023-09-19T22:00","v":0.53},{"t":"2023-09-20T17:00","v":1.33},{"t":"2023-09-21T07:00","v":1.94},{"t":"2023-09-21T19:00","v":2.25},{"t":"2023-09-22T05:00","v":1.15},{"t":"2023-09-22T17:00","v":1.5},{"t":"2023-09-23T02:00","v":1.02},{"t":"2023-09-23T14:00","v":1.81},{"t":"2023-09-24T05:00","v":0.62},{"t":"2023-09-25T00:00","v":1.46},{"t":"2023-09-25T12:00","v":1.06},{"t":"2023-09-26T02:00","v":1.64},{"t":"2023-09-26T17:00","v":1.15},{"t":"2023-09-27T07:00","v":1.68},{"t":"2023-09-27T22:00","v":1.06},{"t":"2023-09-28T17:00","v":1.59},{"t":"2023-09-29T12:00","v":1.15},{"t":"2023-09-30T12:00","v":1.72},{"t":"2023-10-01T02:00","v":1.28},{"t":"2023-10-01T19:00","v":2.03},{"t":"2023-10-02T12:00","v":1.02},{"t":"2023-10-03T07:00","v":1.06},{"t":"2023-10-04T07:00","v":1.94},{"t":"2023-10-05T02:00","v":2.4},{"t":"2023-10-05T19:00","v":1.68},{"t":"2023-10-06T05:00","v":1.15},{"t":"2023-10-06T22:00","v":0.84},{"t":"2023-10-07T14:00","v":1.24},{"t":"2023-10-08T05:00","v":1.15},{"t":"2023-10-08T19:00","v":1.5},{"t":"2023-10-09T10:00","v":0.97},{"t":"2023-10-10T00:00","v":1.24},{"t":"2023-10-10T14:00","v":0.49},{"t":"2023-10-11T00:00","v":0.22},{"t":"2023-10-11T14:00","v":0.53},{"t":"2023-10-12T10:00","v":0.44},{"t":"2023-10-13T00:00","v":1.59},{"t":"2023-10-13T10:00","v":2.74},{"t":"2023-10-13T22:00","v":2.39},{"t":"2023-10-14T12:00","v":2.21},{"t":"2023-10-15T02:00","v":0.49},{"t":"2023-10-15T17:00","v":1.64},{"t":"2023-10-16T07:00","v":1.33},{"t":"2023-10-16T17:00","v":0.49},{"t":"2023-10-17T07:00","v":0.88},{"t":"2023-10-17T22:00","v":1.06},{"t":"2023-10-18T12:00","v":1.64},{"t":"2023-10-19T02:00","v":0.62},{"t":"2023-10-19T22:00","v":0.53},{"t":"2023-10-20T12:00","v":0.31},{"t":"2023-10-21T02:00","v":0.66},{"t":"2023-10-21T14:00","v":1.19},{"t":"2023-10-22T07:00","v":1.06},{"t":"2023-10-22T22:00","v":0.49},{"t":"2023-10-23T17:00","v":0.84},{"t":"2023-10-24T12:00","v":1.37},{"t":"2023-10-25T07:00","v":1.5},{"t":"2023-10-26T02:00","v":1.68},{"t":"2023-10-27T02:00","v":1.5},{"t":"2023-10-27T22:00","v":1.59},{"t":"2023-10-28T17:00","v":1.41},{"t":"2023-10-29T12:00","v":1.02},{"t":"2023-10-30T12:00","v":0.97},{"t":"2023-10-31T07:00","v":1.33},{"t":"2023-11-01T02:00","v":1.5},{"t":"2023-11-01T22:00","v":1.41},{"t":"2023-11-02T17:00","v":1.5},{"t":"2023-11-03T10:00","v":1.33},{"t":"2023-11-04T05:00","v":1.94},{"t":"2023-11-04T19:00","v":1.9},{"t":"2023-11-05T14:00","v":2.16},{"t":"2023-11-06T05:00","v":1.77},{"t":"2023-11-07T05:00","v":0.57},{"t":"2023-11-08T02:00","v":1.41},{"t":"2023-11-08T14:00","v":0.97},{"t":"2023-11-09T05:00","v":1.02},{"t":"2023-11-10T00:00","v":0.62},{"t":"2023-11-11T00:00","v":0.88},{"t":"2023-11-11T14:00","v":1.02},{"t":"2023-11-12T05:00","v":1.94},{"t":"2023-11-12T19:00","v":2.39},{"t":"2023-11-13T12:00","v":2.43},{"t":"2023-11-14T05:00","v":1.55},{"t":"2023-11-14T19:00","v":1.86},{"t":"2023-11-15T10:00","v":1.15},{"t":"2023-11-16T05:00","v":2.39},{"t":"2023-11-16T19:00","v":2.47},{"t":"2023-11-17T14:00","v":2.52},{"t":"2023-11-18T00:00","v":2.65},{"t":"2023-11-18T14:00","v":1.94},{"t":"2023-11-19T05:00","v":1.81},{"t":"2023-11-19T22:00","v":2.43},{"t":"2023-11-20T10:00","v":1.94},{"t":"2023-11-21T00:00","v":2.08},{"t":"2023-11-21T12:00","v":2.83},{"t":"2023-11-22T00:00","v":2.16},{"t":"2023-11-22T14:00","v":1.86},{"t":"2023-11-23T02:00","v":2.25},{"t":"2023-11-23T17:00","v":2.52},{"t":"2023-11-24T07:00","v":0.88},{"t":"2023-11-25T02:00","v":0.49},{"t":"2023-11-25T17:00","v":0.71},{"t":"2023-11-26T07:00","v":1.77},{"t":"2023-11-26T22:00","v":1.24},{"t":"2023-11-27T17:00","v":0.88},{"t":"2023-11-28T02:00","v":0.09},{"t":"2023-11-28T17:00","v":1.06},{"t":"2023-11-29T17:00","v":1.64},{"t":"2023-11-30T07:00","v":0.49},{"t":"2023-11-30T22:00","v":0.27},{"t":"2023-12-01T12:00","v":0.49},{"t":"2023-12-02T02:00","v":1.02},{"t":"2023-12-02T17:00","v":1.41},{"t":"2023-12-03T12:00","v":1.15},{"t":"2023-12-04T07:00","v":0.88},{"t":"2023-12-04T22:00","v":1.64},{"t":"2023-12-05T12:00","v":2.12},{"t":"2023-12-06T07:00","v":1.59},{"t":"2023-12-07T00:00","v":1.06},{"t":"2023-12-07T22:00","v":1.37},{"t":"2023-12-08T17:00","v":0.66},{"t":"2023-12-09T12:00","v":0.88},{"t":"2023-12-10T02:00","v":0.97},{"t":"2023-12-10T17:00","v":1.5},{"t":"2023-12-11T02:00","v":1.15},{"t":"2023-12-11T12:00","v":1.41},{"t":"2023-12-12T02:00","v":1.94},{"t":"2023-12-12T12:00","v":1.24},{"t":"2023-12-13T02:00","v":1.41},{"t":"2023-12-13T19:00","v":2.65},{"t":"2023-12-14T00:00","v":2.03},{"t":"2023-12-14T10:00","v":3.45},{"t":"2023-12-14T19:00","v":1.68},{"t":"2023-12-15T10:00","v":2.43},{"t":"2023-12-16T00:00","v":2.47},{"t":"2023-12-16T10:00","v":2.56},{"t":"2023-12-16T19:00","v":4.06},{"t":"2023-12-17T05:00","v":4.77},{"t":"2023-12-17T12:00","v":3.62},{"t":"2023-12-17T22:00","v":5.48},{"t":"2023-12-18T07:00","v":5.04},{"t":"2023-12-18T14:00","v":5.48},{"t":"2023-12-18T22:00","v":3.62},{"t":"2023-12-19T07:00","v":0.8},{"t":"2023-12-19T17:00","v":-0.7},{"t":"2023-12-20T02:00","v":-0.7},{"t":"2023-12-20T12:00","v":0.27},{"t":"2023-12-20T22:00","v":2.92},{"t":"2023-12-21T07:00","v":0.97},{"t":"2023-12-21T22:00","v":1.94},{"t":"2023-12-22T12:00","v":1.41},{"t":"2023-12-22T22:00","v":2.03},{"t":"2023-12-23T12:00","v":1.06},{"t":"2023-12-24T02:00","v":0.57},{"t":"2023-12-24T17:00","v":2.43},{"t":"2023-12-25T12:00","v":2.16},{"t":"2023-12-26T07:00","v":2.65},{"t":"2023-12-26T22:00","v":2.87},{"t":"2023-12-27T12:00","v":2.74},{"t":"2023-12-28T02:00","v":1.68},{"t":"2023-12-28T17:00","v":1.15},{"t":"2023-12-29T00:00","v":1.86},{"t":"2023-12-29T12:00","v":1.24},{"t":"2023-12-29T22:00","v":1.68},{"t":"2023-12-30T12:00","v":0.97},{"t":"2023-12-31T02:00","v":1.06},{"t":"2023-12-31T12:00","v":0.8},{"t":"2023-12-31T19:00","v":1.06}
]
},
"vconcat": [
{"width": 2016, "height": 382, "layer": [
 {"data": {"name": "obs"}, "mark": {"type": "line", "strokeWidth": 2.3, "clip": true, "strokeJoin": "round"},
  "encoding": {
   "x": {"field": "t", "type": "temporal", "scale": {"domain": [{"year": 2023, "month": 6, "date": 27, "hours": 2}, {"year": 2024, "month": 1, "date": 9, "hours": 22}], "nice": false}, "axis": {"labels": false, "title": null, "tickCount": {"interval": "month", "step": 1}}},
   "y": {"field": "o", "type": "quantitative", "scale": {"domain": [-0.48, 9.5], "nice": false, "zero": false}, "axis": {"values": [0, 3, 6, 9], "title": "WVHT (m)"}},
   "color": {"datum": "NOAA measurement", "type": "nominal", "scale": {"domain": ["NOAA measurement", "CEEMDAN-iTransformer"], "range": ["#000000", "#ff0000"]}, "legend": {"title": null, "orient": "none", "legendX": 17, "legendY": 18}},
   "strokeDash": {"datum": "NOAA measurement", "type": "nominal", "scale": {"domain": ["NOAA measurement", "CEEMDAN-iTransformer"], "range": [[8, 4], [1, 0]]}, "legend": {"title": null, "orient": "none", "legendX": 17, "legendY": 18}}
  }},
 {"data": {"name": "obs"}, "mark": {"type": "line", "strokeWidth": 2.3, "clip": true, "strokeJoin": "round"},
  "encoding": {
   "x": {"field": "t", "type": "temporal"},
   "y": {"field": "a", "type": "quantitative"},
   "color": {"datum": "CEEMDAN-iTransformer", "type": "nominal"},
   "strokeDash": {"datum": "CEEMDAN-iTransformer", "type": "nominal"}
  }},
 {"data": {"values": [{}]}, "mark": {"type": "text", "text": "(a)", "fontSize": 48, "align": "right", "baseline": "middle", "color": "#000000", "font": "DejaVu Sans"},
  "encoding": {"x": {"datum": {"year": 2024, "month": 1, "date": 5, "hours": 19}, "type": "temporal"}, "y": {"datum": 8.4, "type": "quantitative"}}}
]},
{"width": 2016, "height": 382, "layer": [
 {"data": {"name": "obs"}, "mark": {"type": "line", "strokeWidth": 2.3, "clip": true, "strokeJoin": "round"},
  "encoding": {
   "x": {"field": "t", "type": "temporal", "scale": {"domain": [{"year": 2023, "month": 6, "date": 27, "hours": 2}, {"year": 2024, "month": 1, "date": 9, "hours": 22}], "nice": false}, "axis": {"labels": false, "title": null, "tickCount": {"interval": "month", "step": 1}}},
   "y": {"field": "o", "type": "quantitative", "scale": {"domain": [-0.48, 9.5], "nice": false, "zero": false}, "axis": {"values": [0, 3, 6, 9], "title": "WVHT (m)"}},
   "color": {"datum": "NOAA measurement", "type": "nominal", "scale": {"domain": ["NOAA measurement", "CEEMDAN-iTransformer"], "range": ["#000000", "#ff0000"]}, "legend": {"title": null, "orient": "none", "legendX": 17, "legendY": 18}},
   "strokeDash": {"datum": "NOAA measurement", "type": "nominal", "scale": {"domain": ["NOAA measurement", "CEEMDAN-iTransformer"], "range": [[8, 4], [1, 0]]}, "legend": {"title": null, "orient": "none", "legendX": 17, "legendY": 18}}
  }},
 {"data": {"name": "obs"}, "mark": {"type": "line", "strokeWidth": 2.3, "clip": true, "strokeJoin": "round"},
  "encoding": {
   "x": {"field": "t", "type": "temporal"},
   "y": {"field": "b", "type": "quantitative"},
   "color": {"datum": "CEEMDAN-iTransformer", "type": "nominal"},
   "strokeDash": {"datum": "CEEMDAN-iTransformer", "type": "nominal"}
  }},
 {"data": {"values": [{}]}, "mark": {"type": "text", "text": "(b)", "fontSize": 48, "align": "right", "baseline": "middle", "color": "#000000", "font": "DejaVu Sans"},
  "encoding": {"x": {"datum": {"year": 2024, "month": 1, "date": 5, "hours": 19}, "type": "temporal"}, "y": {"datum": 8.4, "type": "quantitative"}}}
]},
{"width": 2016, "height": 382, "layer": [
 {"data": {"name": "obs"}, "mark": {"type": "line", "strokeWidth": 2.3, "clip": true, "strokeJoin": "round"},
  "encoding": {
   "x": {"field": "t", "type": "temporal", "scale": {"domain": [{"year": 2023, "month": 6, "date": 27, "hours": 2}, {"year": 2024, "month": 1, "date": 9, "hours": 22}], "nice": false}, "axis": {"labels": false, "title": null, "tickCount": {"interval": "month", "step": 1}}},
   "y": {"field": "o", "type": "quantitative", "scale": {"domain": [-0.48, 9.5], "nice": false, "zero": false}, "axis": {"values": [0, 3, 6, 9], "title": "WVHT (m)"}},
   "color": {"datum": "NOAA measurement", "type": "nominal", "scale": {"domain": ["NOAA measurement", "CEEMDAN-iTransformer"], "range": ["#000000", "#ff0000"]}, "legend": {"title": null, "orient": "none", "legendX": 17, "legendY": 18}},
   "strokeDash": {"datum": "NOAA measurement", "type": "nominal", "scale": {"domain": ["NOAA measurement", "CEEMDAN-iTransformer"], "range": [[8, 4], [1, 0]]}, "legend": {"title": null, "orient": "none", "legendX": 17, "legendY": 18}}
  }},
 {"data": {"name": "obs"}, "mark": {"type": "line", "strokeWidth": 2.3, "clip": true, "strokeJoin": "round"},
  "encoding": {
   "x": {"field": "t", "type": "temporal"},
   "y": {"field": "c", "type": "quantitative"},
   "color": {"datum": "CEEMDAN-iTransformer", "type": "nominal"},
   "strokeDash": {"datum": "CEEMDAN-iTransformer", "type": "nominal"}
  }},
 {"data": {"values": [{}]}, "mark": {"type": "text", "text": "(c)", "fontSize": 48, "align": "right", "baseline": "middle", "color": "#000000", "font": "DejaVu Sans"},
  "encoding": {"x": {"datum": {"year": 2024, "month": 1, "date": 5, "hours": 19}, "type": "temporal"}, "y": {"datum": 8.4, "type": "quantitative"}}}
]},
{"width": 2016, "height": 382, "layer": [
 {"data": {"name": "obs"}, "mark": {"type": "line", "strokeWidth": 2.3, "clip": true, "strokeJoin": "round"},
  "encoding": {
   "x": {"field": "t", "type": "temporal", "scale": {"domain": [{"year": 2023, "month": 6, "date": 27, "hours": 2}, {"year": 2024, "month": 1, "date": 9, "hours": 22}], "nice": false}, "axis": {"labels": false, "title": null, "tickCount": {"interval": "month", "step": 1}}},
   "y": {"field": "o", "type": "quantitative", "scale": {"domain": [-0.48, 9.5], "nice": false, "zero": false}, "axis": {"values": [0, 3, 6, 9], "title": "WVHT (m)"}},
   "color": {"datum": "NOAA measurement", "type": "nominal", "scale": {"domain": ["NOAA measurement", "CEEMDAN-iTransformer"], "range": ["#000000", "#ff0000"]}, "legend": {"title": null, "orient": "none", "legendX": 17, "legendY": 18}},
   "strokeDash": {"datum": "NOAA measurement", "type": "nominal", "scale": {"domain": ["NOAA measurement", "CEEMDAN-iTransformer"], "range": [[8, 4], [1, 0]]}, "legend": {"title": null, "orient": "none", "legendX": 17, "legendY": 18}}
  }},
 {"data": {"name": "pd"}, "mark": {"type": "line", "strokeWidth": 2.3, "clip": true, "strokeJoin": "round"},
  "encoding": {
   "x": {"field": "t", "type": "temporal"},
   "y": {"field": "v", "type": "quantitative"},
   "color": {"datum": "CEEMDAN-iTransformer", "type": "nominal"},
   "strokeDash": {"datum": "CEEMDAN-iTransformer", "type": "nominal"}
  }},
 {"data": {"values": [{}]}, "mark": {"type": "text", "text": "(d)", "fontSize": 48, "align": "right", "baseline": "middle", "color": "#000000", "font": "DejaVu Sans"},
  "encoding": {"x": {"datum": {"year": 2024, "month": 1, "date": 5, "hours": 19}, "type": "temporal"}, "y": {"datum": 8.4, "type": "quantitative"}}}
]},
{"width": 2016, "height": 382, "layer": [
 {"data": {"name": "obs"}, "mark": {"type": "line", "strokeWidth": 2.3, "clip": true, "strokeJoin": "round"},
  "encoding": {
   "x": {"field": "t", "type": "temporal", "scale": {"domain": [{"year": 2023, "month": 6, "date": 27, "hours": 2}, {"year": 2024, "month": 1, "date": 9, "hours": 22}], "nice": false}, "axis": {"title": "Date", "format": "%Y-%m", "tickCount": {"interval": "month", "step": 1}, "labelPadding": -3, "titlePadding": 10}},
   "y": {"field": "o", "type": "quantitative", "scale": {"domain": [-0.48, 9.5], "nice": false, "zero": false}, "axis": {"values": [0, 3, 6, 9], "title": "WVHT (m)"}},
   "color": {"datum": "NOAA measurement", "type": "nominal", "scale": {"domain": ["NOAA measurement", "CEEMDAN-iTransformer"], "range": ["#000000", "#ff0000"]}, "legend": {"title": null, "orient": "none", "legendX": 17, "legendY": 18}},
   "strokeDash": {"datum": "NOAA measurement", "type": "nominal", "scale": {"domain": ["NOAA measurement", "CEEMDAN-iTransformer"], "range": [[8, 4], [1, 0]]}, "legend": {"title": null, "orient": "none", "legendX": 17, "legendY": 18}}
  }},
 {"data": {"name": "pe"}, "mark": {"type": "line", "strokeWidth": 2.3, "clip": true, "strokeJoin": "round"},
  "encoding": {
   "x": {"field": "t", "type": "temporal"},
   "y": {"field": "v", "type": "quantitative"},
   "color": {"datum": "CEEMDAN-iTransformer", "type": "nominal"},
   "strokeDash": {"datum": "CEEMDAN-iTransformer", "type": "nominal"}
  }},
 {"data": {"values": [{}]}, "mark": {"type": "text", "text": "(e)", "fontSize": 48, "align": "right", "baseline": "middle", "color": "#000000", "font": "DejaVu Sans"},
  "encoding": {"x": {"datum": {"year": 2024, "month": 1, "date": 5, "hours": 19}, "type": "temporal"}, "y": {"datum": 8.4, "type": "quantitative"}}}
]}
],
"spacing": 15,
"resolve": {"scale": {"color": "independent", "strokeDash": "independent"}, "legend": {"color": "independent", "strokeDash": "independent"}},
"config": {
 "font": "DejaVu Sans",
 "view": {"stroke": "#999999", "strokeWidth": 2},
 "axis": {"labelFont": "DejaVu Sans", "titleFont": "DejaVu Sans", "labelFontSize": 35, "titleFontSize": 35, "titleFontWeight": "normal", "labelColor": "#000000", "titleColor": "#000000", "domain": false, "grid": false, "tickColor": "#999999", "tickSize": 7, "tickWidth": 2},
 "axisY": {"labelPadding": 5, "titlePadding": 12},
 "legend": {"labelFont": "DejaVu Sans", "labelFontSize": 34, "labelColor": "#000000", "labelLimit": 1000, "symbolType": "M-1,0H3", "symbolSize": 1225, "symbolStrokeWidth": 2.3, "labelOffset": 60, "padding": 10, "rowPadding": 13, "fillColor": "#ffffff", "strokeColor": "#d9d9d9", "cornerRadius": 6}
}
}
